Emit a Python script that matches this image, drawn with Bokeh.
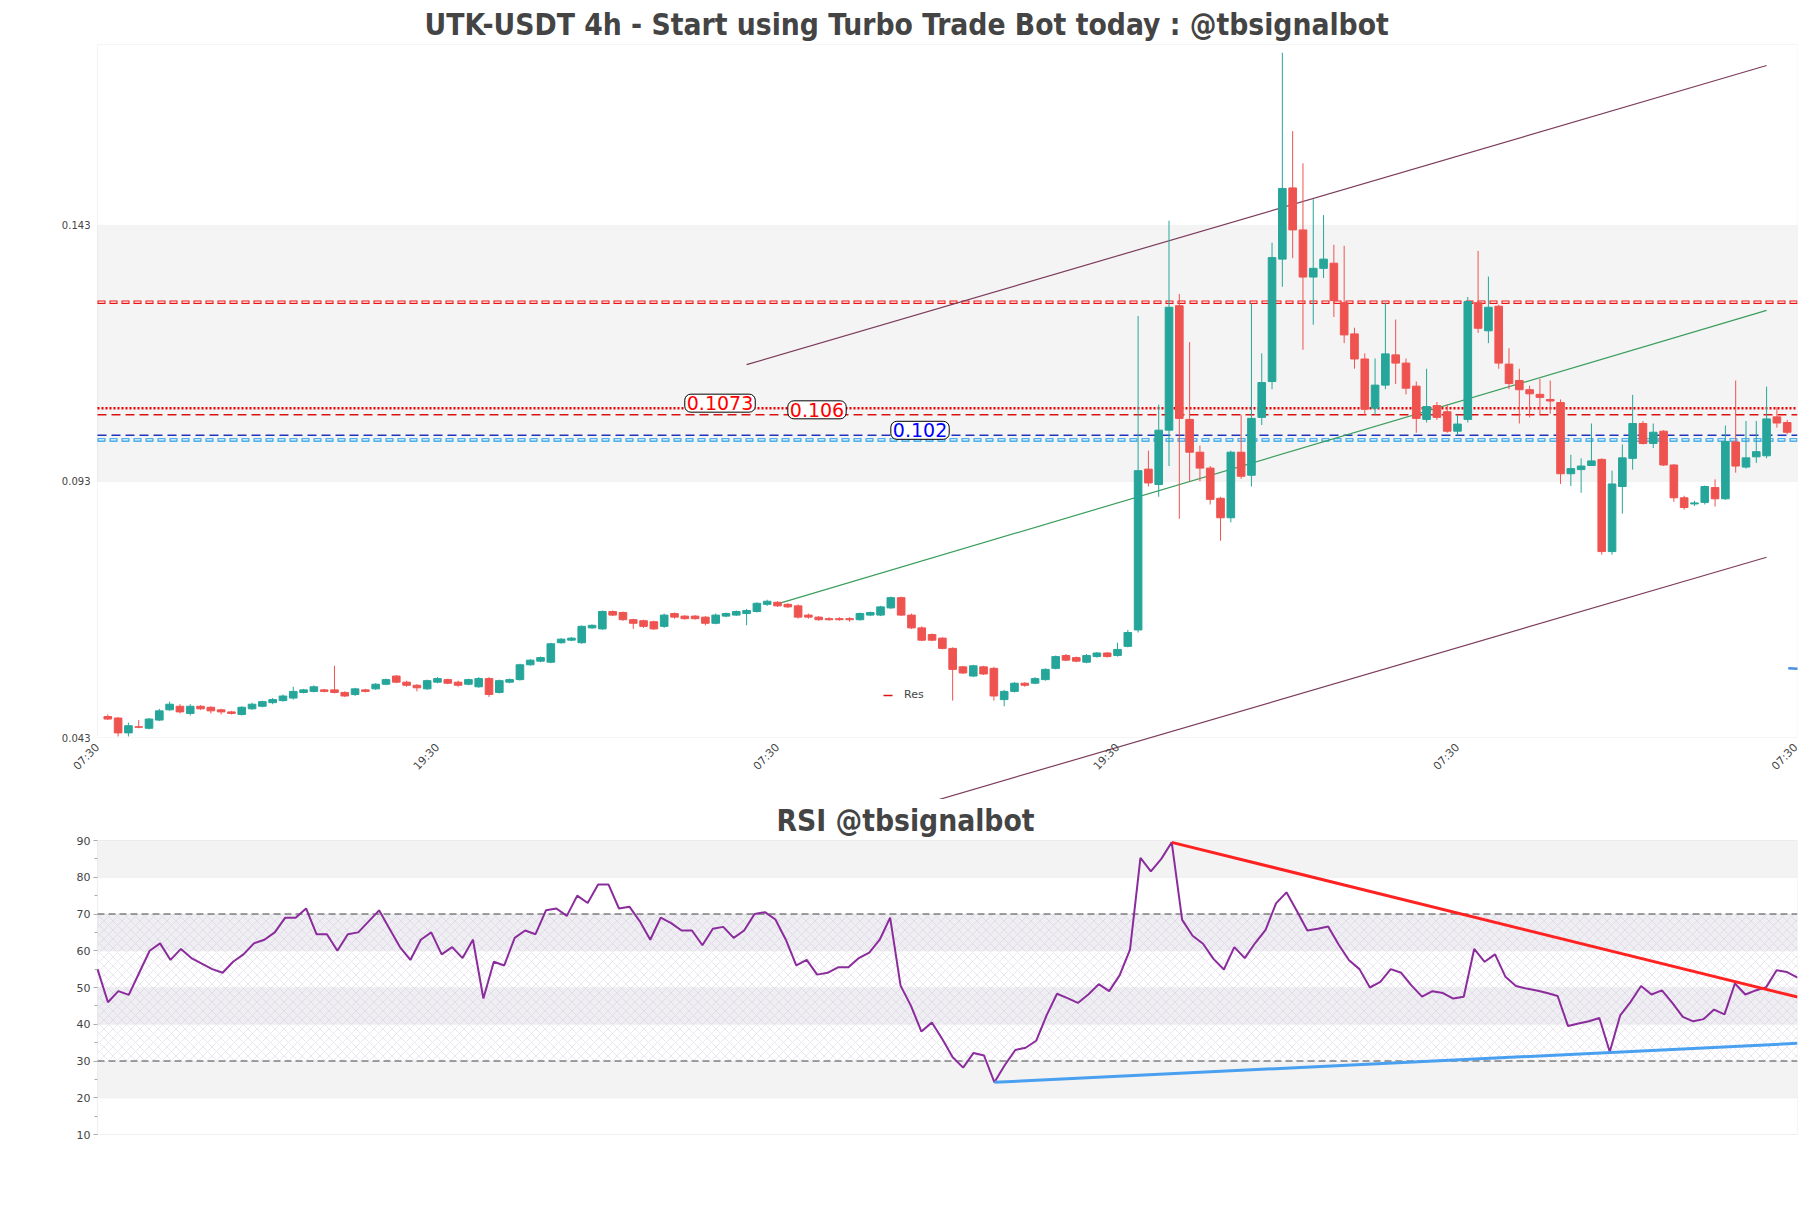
import numpy as np
from bokeh.plotting import figure
from bokeh.models import (Range1d, FixedTicker, BoxAnnotation, Label, ColumnDataSource)
from bokeh.layouts import column
from bokeh.embed import file_html
from bokeh.resources import INLINE

# ---------------- data ----------------
opens = [0.0471, 0.0468, 0.0439, 0.0451, 0.0448, 0.0464, 0.0484, 0.0491, 0.0477, 0.0491,
         0.0489, 0.0484, 0.0480, 0.0475, 0.0486, 0.0491, 0.0498, 0.0502, 0.0507, 0.0518,
         0.0520, 0.0523, 0.0523, 0.0518, 0.0514, 0.0523, 0.0525, 0.0534, 0.0550, 0.0538,
         0.0532, 0.0525, 0.0538, 0.0543, 0.0538, 0.0534, 0.0529, 0.0545, 0.0518, 0.0538,
         0.0543, 0.0572, 0.0579, 0.0577, 0.0615, 0.0620, 0.0615, 0.0644, 0.0642, 0.0676,
         0.0674, 0.0660, 0.0658, 0.0656, 0.0647, 0.0672, 0.0667, 0.0667, 0.0665, 0.0653,
         0.0667, 0.0669, 0.0672, 0.0676, 0.0690, 0.0694, 0.0690, 0.0687, 0.0669, 0.0665,
         0.0662, 0.0662, 0.0662, 0.0660, 0.0669, 0.0669, 0.0683, 0.0703, 0.0669, 0.0644,
         0.0631, 0.0624, 0.0604, 0.0568, 0.0550, 0.0568, 0.0565, 0.0504, 0.0520, 0.0536,
         0.0536, 0.0543, 0.0565, 0.0590, 0.0586, 0.0577, 0.0588, 0.0595, 0.0590, 0.0608,
         0.0640, 0.0954, 0.0924, 0.1030, 0.1273, 0.1051, 0.0987, 0.0956, 0.0897, 0.0859,
         0.0987, 0.0942, 0.1055, 0.1125, 0.1364, 0.1503, 0.1421, 0.1329, 0.1346, 0.1356,
         0.1279, 0.1218, 0.1169, 0.1073, 0.1118, 0.1177, 0.1161, 0.1116, 0.1051, 0.1078,
         0.1066, 0.1028, 0.1051, 0.1279, 0.1224, 0.1272, 0.1159, 0.1127, 0.1109, 0.1100,
         0.1090, 0.1084, 0.0945, 0.0953, 0.0961, 0.0973, 0.0793, 0.0920, 0.0975, 0.1043,
         0.1004, 0.1028, 0.0962, 0.0898, 0.0886, 0.0889, 0.0918, 0.0896, 0.1007, 0.0958,
         0.0978, 0.0980, 0.1056, 0.1045]
highs = [0.0475, 0.0470, 0.0459, 0.0464, 0.0468, 0.0486, 0.0500, 0.0495, 0.0495, 0.0493,
         0.0491, 0.0486, 0.0482, 0.0491, 0.0498, 0.0502, 0.0507, 0.0514, 0.0529, 0.0525,
         0.0532, 0.0525, 0.0570, 0.0520, 0.0527, 0.0525, 0.0536, 0.0545, 0.0552, 0.0541,
         0.0534, 0.0543, 0.0548, 0.0545, 0.0541, 0.0545, 0.0548, 0.0548, 0.0543, 0.0545,
         0.0574, 0.0583, 0.0588, 0.0615, 0.0624, 0.0626, 0.0649, 0.0651, 0.0678, 0.0678,
         0.0676, 0.0662, 0.0660, 0.0658, 0.0672, 0.0674, 0.0669, 0.0669, 0.0667, 0.0672,
         0.0674, 0.0678, 0.0681, 0.0694, 0.0699, 0.0696, 0.0692, 0.0690, 0.0672, 0.0667,
         0.0665, 0.0665, 0.0665, 0.0674, 0.0676, 0.0687, 0.0705, 0.0705, 0.0672, 0.0647,
         0.0633, 0.0626, 0.0606, 0.0570, 0.0572, 0.0570, 0.0568, 0.0523, 0.0538, 0.0538,
         0.0548, 0.0565, 0.0590, 0.0593, 0.0588, 0.0593, 0.0597, 0.0597, 0.0615, 0.0640,
         0.1253, 0.0990, 0.1080, 0.1439, 0.1296, 0.1202, 0.1000, 0.0960, 0.0900, 0.0990,
         0.1060, 0.1278, 0.1180, 0.1396, 0.1767, 0.1614, 0.1551, 0.1481, 0.1450, 0.1392,
         0.1390, 0.1230, 0.1180, 0.1170, 0.1279, 0.1246, 0.1170, 0.1125, 0.1150, 0.1085,
         0.1080, 0.1060, 0.1290, 0.1380, 0.1330, 0.1275, 0.1190, 0.1150, 0.1117, 0.1130,
         0.1127, 0.1090, 0.0982, 0.0975, 0.1043, 0.0975, 0.0951, 0.1002, 0.1099, 0.1048,
         0.1043, 0.1030, 0.0964, 0.0902, 0.0892, 0.0922, 0.0934, 0.1039, 0.1127, 0.1048,
         0.1048, 0.1115, 0.1075, 0.1050]
lows = [0.0464, 0.0432, 0.0432, 0.0448, 0.0446, 0.0462, 0.0482, 0.0477, 0.0473, 0.0484,
        0.0477, 0.0475, 0.0475, 0.0473, 0.0484, 0.0489, 0.0495, 0.0500, 0.0504, 0.0516,
        0.0518, 0.0518, 0.0516, 0.0509, 0.0511, 0.0518, 0.0523, 0.0532, 0.0536, 0.0529,
        0.0520, 0.0523, 0.0536, 0.0534, 0.0529, 0.0532, 0.0527, 0.0509, 0.0516, 0.0536,
        0.0541, 0.0570, 0.0577, 0.0575, 0.0613, 0.0618, 0.0613, 0.0642, 0.0640, 0.0667,
        0.0658, 0.0642, 0.0644, 0.0640, 0.0644, 0.0662, 0.0660, 0.0660, 0.0649, 0.0651,
        0.0665, 0.0667, 0.0649, 0.0674, 0.0687, 0.0685, 0.0683, 0.0662, 0.0662, 0.0658,
        0.0658, 0.0658, 0.0656, 0.0658, 0.0667, 0.0667, 0.0681, 0.0667, 0.0642, 0.0618,
        0.0618, 0.0602, 0.0502, 0.0554, 0.0548, 0.0552, 0.0502, 0.0491, 0.0518, 0.0529,
        0.0534, 0.0541, 0.0563, 0.0579, 0.0577, 0.0575, 0.0586, 0.0586, 0.0588, 0.0606,
        0.0635, 0.0920, 0.0900, 0.0960, 0.0857, 0.0930, 0.0930, 0.0885, 0.0814, 0.0850,
        0.0935, 0.0920, 0.1040, 0.1110, 0.1310, 0.1366, 0.1187, 0.1236, 0.1327, 0.1251,
        0.1200, 0.1150, 0.1060, 0.1060, 0.1110, 0.1120, 0.1100, 0.1025, 0.1045, 0.1050,
        0.1025, 0.1020, 0.1045, 0.1220, 0.1200, 0.1150, 0.1110, 0.1043, 0.1055, 0.1060,
        0.1062, 0.0925, 0.0921, 0.0908, 0.0960, 0.0787, 0.0787, 0.0867, 0.0953, 0.1002,
        0.0995, 0.0960, 0.0890, 0.0875, 0.0882, 0.0885, 0.0881, 0.0894, 0.0947, 0.0955,
        0.0966, 0.0975, 0.1035, 0.1022]
closes = [0.0466, 0.0439, 0.0453, 0.0450, 0.0466, 0.0482, 0.0495, 0.0480, 0.0491, 0.0486,
          0.0482, 0.0480, 0.0477, 0.0489, 0.0495, 0.0500, 0.0504, 0.0511, 0.0520, 0.0523,
          0.0529, 0.0520, 0.0518, 0.0511, 0.0525, 0.0520, 0.0534, 0.0543, 0.0538, 0.0532,
          0.0527, 0.0541, 0.0545, 0.0536, 0.0532, 0.0543, 0.0545, 0.0514, 0.0541, 0.0543,
          0.0572, 0.0581, 0.0586, 0.0613, 0.0622, 0.0624, 0.0647, 0.0649, 0.0676, 0.0669,
          0.0660, 0.0653, 0.0647, 0.0642, 0.0669, 0.0665, 0.0662, 0.0662, 0.0653, 0.0669,
          0.0672, 0.0676, 0.0678, 0.0692, 0.0696, 0.0687, 0.0685, 0.0665, 0.0665, 0.0660,
          0.0660, 0.0660, 0.0660, 0.0672, 0.0674, 0.0685, 0.0703, 0.0669, 0.0644, 0.0620,
          0.0620, 0.0604, 0.0563, 0.0556, 0.0570, 0.0554, 0.0511, 0.0520, 0.0536, 0.0532,
          0.0545, 0.0563, 0.0588, 0.0581, 0.0579, 0.0590, 0.0595, 0.0588, 0.0602, 0.0635,
          0.0951, 0.0927, 0.1030, 0.1270, 0.1053, 0.0987, 0.0956, 0.0895, 0.0859, 0.0987,
          0.0940, 0.1053, 0.1123, 0.1367, 0.1502, 0.1421, 0.1329, 0.1346, 0.1364, 0.1283,
          0.1216, 0.1169, 0.1071, 0.1118, 0.1179, 0.1161, 0.1112, 0.1053, 0.1076, 0.1055,
          0.1028, 0.1042, 0.1281, 0.1229, 0.1270, 0.1161, 0.1121, 0.1109, 0.1101, 0.1094,
          0.1087, 0.0945, 0.0955, 0.0960, 0.0970, 0.0793, 0.0925, 0.0976, 0.1043, 0.1004,
          0.1026, 0.0962, 0.0898, 0.0879, 0.0888, 0.0920, 0.0896, 0.1008, 0.0960, 0.0976,
          0.0988, 0.1052, 0.1044, 0.1026]

rsi = [55, 46, 49, 48, 54, 60, 62, 57.5, 60.5, 58,
       56.5, 55, 54, 57, 59, 62, 63, 65, 69, 69,
       71.5, 64.5, 64.5, 60, 64.5, 65, 68, 71, 66, 61,
       57.5, 63, 65, 59, 61, 58, 63, 47, 57, 56,
       63.5, 65.5, 64.5, 71, 71.5, 69.5, 75, 73, 78, 78,
       71.5, 72, 68, 63, 69, 67.5, 65.5, 65.5, 61.5, 66,
       66.5, 63.5, 65.5, 70, 70.5, 68.5, 63, 56, 57.5, 53.5,
       54, 55.5, 55.5, 58, 59.5, 63, 69, 50.5, 45, 38,
       40.5, 36, 31, 28.2, 32.2, 31.5, 24.2, 28.9, 33.0, 33.6,
       35.5, 42.4, 48.3, 47.1, 45.8, 48.1, 50.9, 49.0, 53.3, 60.3,
       85.3, 81.6, 85.0, 89.5, 68.4, 64.1, 61.9, 57.8, 54.9, 61.0,
       58.0, 62.1, 65.7, 72.9, 75.9, 70.8, 65.5, 66.0, 66.6, 61.7,
       57.4, 55, 50, 51.5, 55, 54, 50.5, 47.5, 49, 48.5,
       47, 47.5, 60.5, 57, 59, 52.9, 50.4, 49.7, 49.2, 48.5,
       47.7, 39.5, 40.2, 40.8, 41.7, 32.5, 42.4, 46.1, 50.4, 48.1,
       49.2, 45.8, 42.0, 40.8, 41.4, 44.0, 42.7, 51.1, 48.1, 49.2,
       50.1, 54.7, 54.2, 52.7]

# price levels
res_strong = 0.128      # red patterned line
res_1 = 0.1073          # red dotted
res_2 = 0.106           # red dashed
sup_1 = 0.102           # blue dashed
sup_strong = 0.1011     # light-blue patterned line
level_labels = [("0.1073", 0.1073, 56, "red"), ("0.106", 0.106, 66, "red"), ("0.102", 0.102, 76, "blue")]

# channel (index, price)
chan_upper_x, chan_upper_y = [62, 161], [0.1158, 0.1742]
chan_mid_x, chan_mid_y = [65, 161], [0.0691, 0.1264]
chan_lower_x, chan_lower_y = [79, 161], [0.0299, 0.0782]
stray_x, stray_y = [163.1, 165.2], [0.0565, 0.0563]

# RSI trend lines (index, value)
rsi_res_x, rsi_res_y = [103, 163], [89.5, 47.4]
rsi_sup_x, rsi_sup_y = [86, 163], [24.2, 34.8]

tick_pos = [-1, 32, 65, 98, 131, 164]
tick_labels = ["07:30", "19:30", "07:30", "19:30", "07:30", "07:30"]
price_ticks = [0.043, 0.093, 0.143]
price_tick_labels = ["0.043", "0.093", "0.143"]
price_top = 0.1783
x_lo, x_hi = -1, 164

rsi_ticks = [10, 20, 30, 40, 50, 60, 70, 80, 90]
rsi_minor = [15, 25, 35, 45, 55, 65, 75, 85]
rsi_levels = [30, 70]

main_title = "UTK-USDT 4h - Start using Turbo Trade Bot today : @tbsignalbot"
rsi_title = "RSI @tbsignalbot"

# ---------------- geometry (pixels) ----------------
FIG_W = 1800
PLOT_L, PLOT_R = 97, 1797          # plotting area horizontal extent
PRICE_TOP_PX = 44
PRICE_BOTTOM = 737                 # pixel row of the lowest price tick
H1 = 799                           # main figure height (frame runs to its bottom)
FRAME_TOP = PRICE_TOP_PX - 1
px_per_x = (PLOT_R - PLOT_L) / (x_hi - x_lo)
px_per_y = (PRICE_BOTTOM - PRICE_TOP_PX) / (price_top - price_ticks[0])
x_start = x_lo - PLOT_L / px_per_x
x_end = x_hi + (FIG_W - PLOT_R - 3) / px_per_x
y_start = price_ticks[0] - (H1 - PRICE_BOTTOM) / px_per_y
y_end = price_top + 1 / px_per_y

# ---------------- main chart ----------------
n = len(opens)
idx = np.arange(n)
o = np.array(opens); h = np.array(highs); l = np.array(lows); c = np.array(closes)
up = c >= o
colors = np.where(up, "#26a69a", "#ef5350")
src = ColumnDataSource(dict(x=idx, top=np.maximum(o, c), bottom=np.minimum(o, c),
                            high=h, low=l, color=colors))

FONT = "DejaVu Sans"
TFONT = "DejaVu Sans Condensed"

p = figure(width=FIG_W, height=H1, output_backend="svg", toolbar_location=None,
           x_range=Range1d(x_start, x_end), y_range=Range1d(y_start, y_end),
           y_axis_location=None,
           min_border_left=0, min_border_right=3, min_border_top=FRAME_TOP,
           min_border_bottom=0)
p.title.text = main_title
p.title.align = "left"
p.title.offset = 424
p.title.text_font = TFONT
p.title.text_font_size = "29.7px"
p.title.text_color = "#444444"
p.title.standoff = 4
p.outline_line_color = None
p.background_fill_color = "white"

p.xgrid.visible = False
p.ygrid.visible = False

# price tick labels, placed at the left edge of the price area
for t, s in zip(price_ticks, price_tick_labels):
    p.add_layout(Label(x=x_lo, y=t, x_offset=-7, text=s, text_align="right",
                       text_baseline="middle", text_font=FONT, text_font_size="10px",
                       text_color="#444444"))

p.xaxis.fixed_location = price_ticks[0]
p.xaxis.ticker = FixedTicker(ticks=tick_pos)
p.xaxis.major_label_overrides = {t: s for t, s in zip(tick_pos, tick_labels)}
p.xaxis.major_label_orientation = 0.8
p.xaxis.major_tick_line_color = None
p.xaxis.minor_tick_line_color = None
p.xaxis.axis_line_color = None
p.xaxis.major_label_text_font_size = "11px"
p.xaxis.major_label_text_color = "#444444"
p.xaxis.major_label_text_font = FONT
p.xaxis.major_label_standoff = 2

# border of the price area and the shaded band between the price ticks
p.add_layout(BoxAnnotation(left=x_lo, right=x_hi, bottom=price_ticks[1], top=price_ticks[2],
                           fill_color="#f4f4f4", fill_alpha=1, line_color="#e4e4e4",
                           line_width=1, level="underlay"))
p.add_layout(BoxAnnotation(left=x_lo, right=x_hi, bottom=price_ticks[0], top=price_top,
                           fill_alpha=0, line_color="#dddddd", line_width=1.2,
                           level="underlay"))

# resistance / support lines
def level_line(fig, x0, x1, yv, **kw):
    return fig.segment(x0=[x0], y0=[yv], x1=[x1], y1=[yv], **kw)

level_line(p, x_lo, x_hi, res_strong, line_color="#ee1111", line_width=3.5, line_dash="8 4")
level_line(p, x_lo, x_hi, res_strong, line_color="white", line_width=1.2, line_dash="6 6",
           line_dash_offset=-1)
level_line(p, x_lo, x_hi, sup_strong, line_color="#1e9be6", line_width=3.5, line_dash="8 4")
level_line(p, x_lo, x_hi, sup_strong, line_color="white", line_width=1.2, line_dash="6 6",
           line_dash_offset=-1)
level_line(p, x_lo, x_hi, res_1, line_color="#ee0000", line_width=2.5, line_dash="2 2")
level_line(p, x_lo, x_hi, res_2, line_color="#dd1111", line_width=1.5, line_dash="9 5",
           legend_label="Res")
level_line(p, x_lo, x_hi, sup_1, line_color="#2233bb", line_width=1.5, line_dash="9 5")

# channel
p.line(chan_upper_x, chan_upper_y, line_color="#7d3c5c", line_width=1.2)
p.line(chan_mid_x, chan_mid_y, line_color="#3a9e5c", line_width=1.2)
p.line(chan_lower_x, chan_lower_y, line_color="#7d3c5c", line_width=1.2)
p.line(stray_x, stray_y, line_color="#4a90e2", line_width=2.5)

# candles
p.segment("x", "high", "x", "low", source=src, line_color="color", line_width=1)
p.vbar("x", 0.74, "top", "bottom", source=src, fill_color="color", line_color="color")

for txt, yv, xv, col in level_labels:
    p.add_layout(Label(x=xv, y=yv, y_offset=5, text=txt, text_color=col, text_font=FONT,
                       text_font_size="19px", text_baseline="middle",
                       background_fill_color="white", border_line_color="black",
                       border_line_width=1, padding=2, border_radius=6))

p.legend.location = (PLOT_L + 782, H1 - PRICE_BOTTOM + 32)
p.legend.background_fill_alpha = 0
p.legend.border_line_alpha = 0
p.legend.label_text_font_size = "11px"
p.legend.label_text_font = FONT
p.legend.glyph_width = 12
p.legend.glyph_height = 12
p.legend.padding = 4
p.legend.margin = 0
p.legend.label_standoff = 9

# ---------------- RSI chart ----------------
m = len(rsi)
RSI_TOP_PX, RSI_BOTTOM_PX = 840, 1134     # pixel rows of 90 and 10 on the page
RSI_H = 360                               # figure occupies page rows H1 .. H1 + RSI_H
RSI_TITLE_PX, RSI_TITLE_CX = 820, 905
rpx_y = (RSI_BOTTOM_PX - RSI_TOP_PX) / (rsi_ticks[-1] - rsi_ticks[0])
rpx_x = (PLOT_R - PLOT_L) / (m - 1)
r_x_start = 0 - PLOT_L / rpx_x
r_x_end = (m - 1) + (FIG_W - PLOT_R - 3) / rpx_x
r_y_end = rsi_ticks[-1] + (RSI_TOP_PX - H1) / rpx_y
r_y_start = rsi_ticks[0] - (H1 + RSI_H - RSI_BOTTOM_PX) / rpx_y

p2 = figure(width=FIG_W, height=RSI_H, output_backend="svg", toolbar_location=None,
            title=None,
            x_range=Range1d(r_x_start, r_x_end), y_range=Range1d(r_y_start, r_y_end),
            min_border_left=0, min_border_right=3, min_border_top=0, min_border_bottom=0)
p2.outline_line_color = None
p2.xaxis.visible = False
p2.xgrid.visible = False
p2.ygrid.visible = False

p2.add_layout(Label(x=(RSI_TITLE_CX - PLOT_L) / rpx_x,
                    y=rsi_ticks[-1] + (RSI_TOP_PX - RSI_TITLE_PX) / rpx_y,
                    text=rsi_title, text_align="center", text_baseline="middle",
                    text_font=TFONT, text_font_style="bold", text_font_size="29.7px",
                    text_color="#444444"))

p2.yaxis.fixed_location = 0
p2.yaxis.ticker = FixedTicker(ticks=rsi_ticks, minor_ticks=rsi_minor)
p2.yaxis.axis_line_color = None
p2.yaxis.major_tick_line_color = "#aaaaaa"
p2.yaxis.minor_tick_line_color = "#aaaaaa"
p2.yaxis.major_tick_in = 0
p2.yaxis.major_tick_out = 4
p2.yaxis.minor_tick_in = 0
p2.yaxis.minor_tick_out = 3
p2.yaxis.major_label_text_font_size = "11px"
p2.yaxis.major_label_text_color = "#444444"
p2.yaxis.major_label_text_font = FONT
p2.yaxis.major_label_standoff = 3

band_fill = {80: "#f3f3f3", 70: "white", 60: "#efeef2", 50: "white",
             40: "#efeef2", 30: "white", 20: "#f3f3f3", 10: "white"}
for b in rsi_ticks[:-1]:
    p2.add_layout(BoxAnnotation(left=0, right=m - 1, bottom=b, top=b + 10,
                                fill_color=band_fill[b], fill_alpha=1,
                                line_color="#e0e0e0", line_width=1, level="underlay"))
p2.add_layout(BoxAnnotation(left=0, right=m - 1, bottom=rsi_levels[0], top=rsi_levels[1],
                            fill_alpha=0, line_alpha=0,
                            hatch_pattern="x", hatch_color="#c8bcd4", hatch_alpha=0.6,
                            hatch_scale=9, hatch_weight=0.6, level="underlay"))
p2.add_layout(BoxAnnotation(left=0, right=m - 1, bottom=rsi_ticks[0], top=rsi_ticks[-1],
                            fill_alpha=0, line_color="#dddddd", line_width=1.2,
                            level="underlay"))
for lv in rsi_levels:
    level_line(p2, 0, m - 1, lv, line_color="#444444", line_dash="7 4", line_width=1.2)

p2.line(np.arange(m), rsi, line_color="#8b2c9c", line_width=2)
p2.line(rsi_res_x, rsi_res_y, line_color="#ff2222", line_width=3)
p2.line(rsi_sup_x, rsi_sup_y, line_color="#4aa0f0", line_width=3)

layout = column(p, p2, spacing=0)
open("out.html", "w").write(file_html(layout, INLINE))
